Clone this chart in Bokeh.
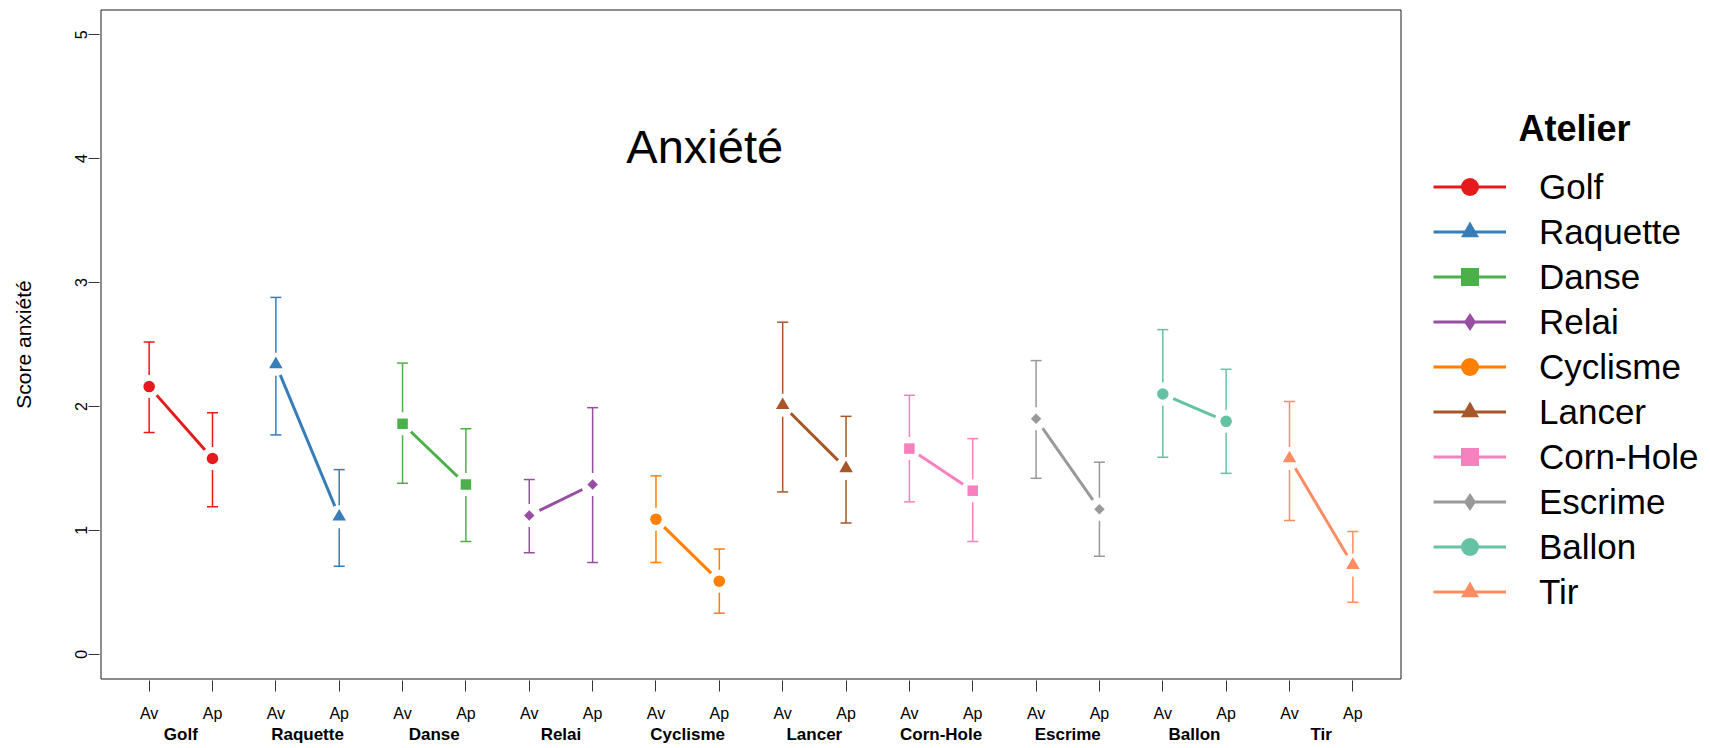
import math
from bokeh.plotting import figure
from bokeh.models import (ColumnDataSource, Range1d, FixedTicker, LinearAxis, Whisker,
                          TeeHead, Legend, LegendItem, Label, BoxAnnotation)
from bokeh.embed import file_html
from bokeh.resources import INLINE

# ---- data ----
ateliers = ["Golf", "Raquette", "Danse", "Relai", "Cyclisme",
            "Lancer", "Corn-Hole", "Escrime", "Ballon", "Tir"]
moments = ["Av", "Ap"]
moy_av = [2.16, 2.34, 1.86, 1.12, 1.09, 2.01, 1.66, 1.90, 2.10, 1.58]
moy_ap = [1.58, 1.11, 1.37, 1.37, 0.59, 1.50, 1.32, 1.17, 1.88, 0.72]
haut_av = [2.52, 2.88, 2.35, 1.41, 1.44, 2.68, 2.09, 2.37, 2.62, 2.04]
bas_av = [1.79, 1.77, 1.38, 0.82, 0.74, 1.31, 1.23, 1.42, 1.59, 1.08]
haut_ap = [1.95, 1.49, 1.82, 1.99, 0.85, 1.92, 1.74, 1.55, 2.30, 0.99]
bas_ap = [1.19, 0.71, 0.91, 0.74, 0.33, 1.06, 0.91, 0.79, 1.46, 0.42]
y_ticks = [0, 1, 2, 3, 4, 5]

couleurs = ["#E41A1C", "#377EB8", "#4DAF4A", "#984EA3", "#FF7F00",
            "#A65628", "#F781BF", "#999999", "#66C2A5", "#FC8D62"]
formes = ["circle", "triangle", "square", "diamond"] * 3

FONT = "Liberation Sans"

# ---- geometry (R-like box: x 0.24..20.76, y -0.2..5.2) ----
W, H = 1710, 748
BL, BT, BB = 99, 8, 68          # borders
box_x0, box_x1 = 0.24, 20.76
box_y0, box_y1 = -0.2, 5.2
ux = 1300 / (box_x1 - box_x0)               # px per x unit
frame_h = H - BT - BB
uy = (frame_h - 3) / (box_y1 - box_y0)      # px per y unit
x_start = box_x0 - 1.5 / ux
x_end = x_start + (W - BL) / ux
y_start = box_y0 - 1.5 / uy
y_end = box_y1 + 1.5 / uy

p = figure(width=W, height=H, output_backend="svg", toolbar_location=None,
           x_range=Range1d(x_start, x_end), y_range=Range1d(y_start, y_end),
           min_border_left=BL, min_border_right=0, min_border_top=BT, min_border_bottom=BB,
           background_fill_color="white", border_fill_color="white")
p.grid.visible = False
p.outline_line_color = None

p.add_layout(BoxAnnotation(left=box_x0, right=box_x1, bottom=box_y0, top=box_y1,
                           fill_color=None, fill_alpha=0, line_color="#1a1a1a",
                           line_alpha=1.0, line_width=1))

# x axis: Av / Ap
n = len(ateliers)
pos = [i + 1 for i in range(2 * n)]
xa = p.xaxis[0]
xa.ticker = FixedTicker(ticks=pos)
xa.major_label_overrides = {x: moments[(x - 1) % 2] for x in pos}
xa.axis_line_color = None
xa.major_tick_out = 11
xa.major_tick_in = 0
xa.minor_tick_line_color = None
xa.major_tick_line_color = "#333333"
xa.major_label_standoff = 13
xa.major_label_text_font = FONT
xa.major_label_text_font_size = "16px"
xa.major_label_text_line_height = 1.0
xa.major_label_text_color = "black"

# group labels axis
centres = [2 * i + 1.5 for i in range(n)]
ga = LinearAxis(ticker=FixedTicker(ticks=centres),
                major_label_overrides={c: a for c, a in zip(centres, ateliers)},
                axis_line_color=None, major_tick_out=0, major_tick_in=0,
                major_tick_line_color=None, minor_tick_line_color=None,
                major_label_standoff=0, major_label_text_font=FONT,
                major_label_text_font_size="17px", major_label_text_font_style="bold",
                major_label_text_line_height=1.0,
                major_label_text_color="black")
p.add_layout(ga, "below")

# y axis
ya = p.yaxis[0]
ya.ticker = FixedTicker(ticks=y_ticks)
ya.axis_line_color = None
ya.major_tick_out = 11
ya.major_tick_in = 0
ya.minor_tick_line_color = None
ya.major_tick_line_color = "#333333"
ya.major_label_orientation = "vertical"
ya.major_label_standoff = 1
ya.major_label_text_font = FONT
ya.major_label_text_font_size = "16px"
ya.major_label_text_color = "black"
ya.axis_label = "Score anxiété"
ya.axis_label_text_font = FONT
ya.axis_label_text_font_size = "21px"
ya.axis_label_text_font_style = "normal"
ya.axis_label_text_color = "black"
ya.axis_label_standoff = 38

items = []
for i, nom in enumerate(ateliers):
    col = couleurs[i]
    forme = formes[i]
    src = ColumnDataSource(dict(x=[2 * i + 1, 2 * i + 2],
                                y=[moy_av[i], moy_ap[i]],
                                upper=[haut_av[i], haut_ap[i]],
                                lower=[bas_av[i], bas_ap[i]]))
    w = Whisker(source=src, base="x", upper="upper", lower="lower",
                line_color=col, line_width=1.5, level="underlay",
                upper_head=TeeHead(size=11, line_color=col, line_width=1.5),
                lower_head=TeeHead(size=11, line_color=col, line_width=1.5))
    p.add_layout(w)
    lr = p.line("x", "y", source=src, line_color=col, line_width=3)
    # white halo (gap around points, as R type="b")
    p.scatter("x", "y", source=src, marker="circle", size=23,
              fill_color="white", line_color=None)
    if forme == "circle":
        leg_r = p.scatter("x", "y", source=src, marker="circle", size=11.5,
                          fill_color=col, line_color=None)
    elif forme == "triangle":
        leg_r = p.scatter("x", "y", source=src, marker="triangle", size=13.5,
                          fill_color=col, line_color=None)
    elif forme == "square":
        leg_r = p.scatter("x", "y", source=src, marker="square", size=10.5,
                          fill_color=col, line_color=None)
    else:
        p.scatter("x", "y", source=src, marker="square", size=7.4,
                  angle=math.pi / 4, fill_color=col, line_color=None)
        leg_r = p.scatter("x", "y", source=src, marker="diamond", size=9,
                          fill_color=col, line_color=None)
    items.append(LegendItem(label=nom, renderers=[lr, leg_r]))

legend = Legend(items=items, location=(1334, 66), glyph_width=73, glyph_height=45,
                spacing=0, label_standoff=33, label_text_font=FONT,
                label_text_font_size="35px", label_text_color="black",
                padding=0, margin=0, border_line_color=None,
                background_fill_alpha=0)
p.add_layout(legend)

titre_legende = Label(x=23.50, y=4.24, text="Atelier", text_font=FONT,
                      text_font_size="36px", text_font_style="bold",
                      text_align="center", text_baseline="alphabetic",
                      text_color="black")
p.add_layout(titre_legende)

titre = Label(x=9.77, y=4.10, text="Anxiété", text_font=FONT,
              text_font_size="47px", text_align="center",
              text_baseline="alphabetic", text_color="black")
p.add_layout(titre)

open("out.html", "w").write(file_html(p, INLINE))
